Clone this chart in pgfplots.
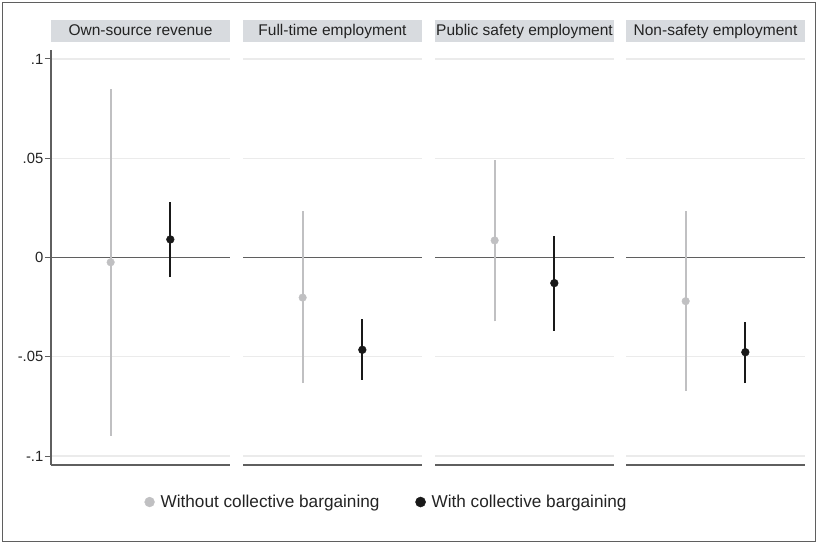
\documentclass[border=0pt]{standalone}
\usepackage{pgfplots}
\pgfplotsset{compat=1.18}
\usepackage{fontspec}
\setmainfont{Liberation Sans}
\definecolor{stripfill}{RGB}{216,219,223}
\definecolor{gridc}{RGB}{235,235,235}
\definecolor{axc}{RGB}{95,95,95}
\definecolor{cigray}{RGB}{192,192,194}
\definecolor{blk}{RGB}{25,25,25}
\definecolor{txt}{RGB}{35,35,35}
\pgfplotsset{
  panel/.style={
    scale only axis, width=179bp, height=415bp,
    xmin=0, xmax=3, ymin=-0.10453, ymax=0.10453,
    axis x line*=bottom, axis y line*=left,
    x axis line style={axc, line width=1.2bp, -},
    y axis line style={axc, line width=1.2bp, -},
    xtick=\empty,
    ytick={-0.1,-0.05,0.05,0.1},
    yticklabels={-.1,-.05,.05,.1},
    extra y ticks={0},
    extra y tick labels={0},
    ymajorgrids,
    major grid style={gridc, line width=1.2bp},
    extra y tick style={ymajorgrids=true, major grid style={axc, line width=1.3bp}},
    tick align=outside, major tick length=6bp,
    tick style={axc, line width=1bp},
    yticklabel style={font=\fontsize{14.8bp}{16bp}\selectfont, text=txt, inner xsep=1.5bp},
    /pgf/number format/assume math mode=true,
    title style={fill=stripfill, minimum width=179bp, minimum height=22bp, inner sep=0pt,
      text height=12bp, text depth=2bp,
      anchor=south, at={(0.5,1)}, yshift=2bp, font=\fontsize{15.5bp}{18bp}\selectfont, text=txt},
  },
  inner/.style={
    y axis line style={draw=none},
    yticklabels={}, extra y tick labels={},
    major tick length=0pt,
  },
  ci0/.style={cigray, line width=2bp, forget plot},
  ci1/.style={blk, line width=2.1bp, forget plot},
  pt0/.style={only marks, mark=*, mark size=3.8bp, cigray},
  pt1/.style={only marks, mark=*, mark size=3.9bp, blk},
}
\begin{document}
\begin{tikzpicture}
\useasboundingbox (0,0) rectangle (817bp,-543bp);
\draw[axc, line width=1.2bp] (2.5bp,-2.5bp) rectangle (815.5bp,-541.5bp);

\begin{axis}[panel, at={(51bp,-465bp)}, title={Own-source revenue},
  legend style={at={(1.875,-0.0892)}, anchor=center, draw=none, fill=none,
    legend columns=2, font=\fontsize{17.2bp}{20bp}\selectfont, text=txt,
    /tikz/every even column/.append style={column sep=34bp}},
  legend image code/.code={\draw[#1, mark options={scale=1.3}] plot coordinates {(0bp,0bp)}; \path[draw=none, fill=none] (0bp,-0.1bp) rectangle (9bp,0.1bp);}]
\addplot[ci0] coordinates {(1,-0.0897) (1,0.0851)};
\addplot[ci1] coordinates {(2,-0.0099) (2,0.0279)};
\addplot[pt0] coordinates {(1,-0.0024)};
\addlegendentry{Without collective bargaining}
\addplot[pt1] coordinates {(2,0.0091)};
\addlegendentry{With collective bargaining}
\end{axis}

\begin{axis}[panel, inner, at={(243bp,-465bp)}, title={Full-time employment}]
\addplot[ci0] coordinates {(1,-0.0633) (1,0.0232)};
\addplot[ci1] coordinates {(2,-0.0615) (2,-0.0312)};
\addplot[pt0] coordinates {(1,-0.0202)};
\addplot[pt1] coordinates {(2,-0.0465)};
\end{axis}

\begin{axis}[panel, inner, at={(435bp,-465bp)}, title={Public safety employment}]
\addplot[ci0] coordinates {(1,-0.0322) (1,0.0492)};
\addplot[ci1] coordinates {(2,-0.0368) (2,0.0107)};
\addplot[pt0] coordinates {(1,0.0086)};
\addplot[pt1] coordinates {(2,-0.0129)};
\end{axis}

\begin{axis}[panel, inner, at={(626bp,-465bp)}, title={Non-safety employment}]
\addplot[ci0] coordinates {(1,-0.0670) (1,0.0232)};
\addplot[ci1] coordinates {(2,-0.0633) (2,-0.0326)};
\addplot[pt0] coordinates {(1,-0.0220)};
\addplot[pt1] coordinates {(2,-0.0477)};
\end{axis}
\end{tikzpicture}
\end{document}
